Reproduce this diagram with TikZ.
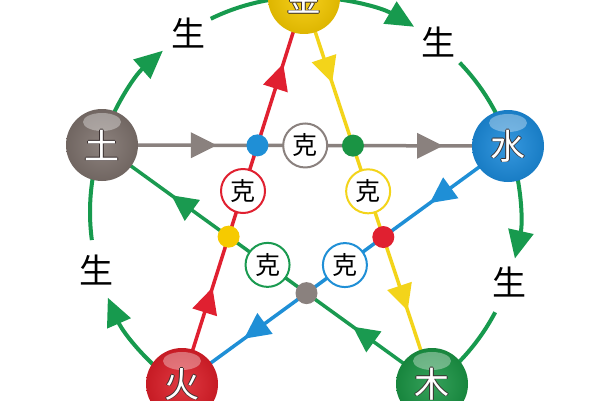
\documentclass[tikz,border=0pt]{standalone}
\usepackage{fontspec}
\newfontfamily\cjk{Noto Sans CJK SC}
\usetikzlibrary{arrows.meta,decorations.markings,calc}
\definecolor{cearth}{HTML}{7D716C}
\definecolor{cwater}{HTML}{1B8ADA}
\definecolor{cwood}{HTML}{1A9444}
\definecolor{cfire}{HTML}{DC1E28}
\definecolor{cmetal}{HTML}{F6CA00}
\definecolor{lgray}{HTML}{8A817E}
\definecolor{lred}{HTML}{E02030}
\definecolor{lyellow}{HTML}{F3D41A}
\definecolor{lblue}{HTML}{1F8FD6}
\definecolor{lgreen}{HTML}{1A9A50}
\definecolor{arcgreen}{HTML}{179A4E}
\definecolor{outl}{HTML}{3A3030}
\newcommand\outlinedtext[1]{\leavevmode
  \rlap{\color{outl}\kern0.7pt#1}\rlap{\color{outl}\kern-0.7pt#1}%
  \rlap{\color{outl}\raisebox{0.7pt}{#1}}\rlap{\color{outl}\raisebox{-0.7pt}{#1}}%
  {\color{white}#1}}
\tikzset{
  orb/.style={circle, minimum size=72pt, inner sep=0pt, shading=radial,
    inner color=#1!88!white, outer color=#1!90!black,
    font=\cjk\fontsize{35}{35}\selectfont,
    path picture={\fill[white,opacity=0.35] ([yshift=23pt]path picture bounding box.center) ellipse (19pt and 9pt);}},
  kecircle/.style={circle, draw=#1, line width=2pt, fill=white, minimum size=44pt,
    inner sep=0pt, font=\cjk\fontsize{25}{25}\selectfont},
  dotnode/.style={circle, fill=#1, minimum size=22pt, inner sep=0pt},
  sheng/.style={draw=arcgreen, line width=4pt},
  shengtip/.style={sheng, -{Triangle[length=28pt,width=25pt]}},
  shenglabel/.style={font=\cjk\fontsize{34}{34}\selectfont, text=black, inner sep=0pt},
  keline/.style n args={3}{draw=#1, line width=3.5pt,
    decoration={markings,
      mark=at position #2 with {\arrow{Triangle[length=26pt,width=25pt]}},
      mark=at position #3 with {\arrow{Triangle[length=26pt,width=25pt]}}},
    postaction={decorate}}
}
\begin{document}
\begin{tikzpicture}[x=1pt,y=1pt]
\useasboundingbox (0,0) rectangle (600,400);
\clip (0,0) rectangle (600,400);
\fill[white] (0,0) rectangle (600,400);
% centres
\coordinate (C) at (305,188);
\coordinate (J) at (304,402);
\coordinate (S) at (508,254);
\coordinate (M) at (432,16);
\coordinate (H) at (182,16);
\coordinate (T) at (102,255);
% generating cycle (outer arcs)
\draw[shengtip] ([shift={(C)}]161.5:215) arc[start angle=161.5,end angle=131.4,radius=215];
\draw[sheng] ([shift={(C)}]116:215) arc[start angle=116,end angle=89,radius=215];
\draw[shengtip] ([shift={(C)}]90:215) arc[start angle=90,end angle=59.5,radius=215];
\draw[sheng] ([shift={(C)}]44:215) arc[start angle=44,end angle=17.8,radius=215];
\draw[shengtip] ([shift={(C)}]17.8:215) arc[start angle=17.8,end angle=-12.5,radius=215];
\draw[sheng] ([shift={(C)}]-27.8:215) arc[start angle=-27.8,end angle=-53.6,radius=215];
\draw[shengtip] ([shift={(C)}]234.4:215) arc[start angle=234.4,end angle=203.5,radius=215];
\draw[sheng] ([shift={(C)}]187.5:215) arc[start angle=187.5,end angle=161.5,radius=215];
% controlling cycle (pentagram)
\path[keline={lgray}{0.283}{0.84}] (T) -- (S);
\path[keline={lred}{0.25}{0.83}] (H) -- (J);
\path[keline={lyellow}{0.22}{0.81}] (J) -- (M);
\path[keline={lblue}{0.24}{0.81}] (S) -- (H);
\path[keline={lgreen}{0.24}{0.79}] (M) -- (T);
% intersections
\coordinate (bd) at (intersection of T--S and H--J);
\coordinate (gd) at (intersection of T--S and J--M);
\coordinate (rd) at (intersection of J--M and S--H);
\coordinate (ad) at (intersection of S--H and M--T);
\coordinate (yd) at (intersection of M--T and H--J);
\node[kecircle=lgray] (k1) at ($(bd)!0.5!(gd)$) {克};
\node[kecircle=lyellow] (k2) at ($(gd)!0.5!(rd)$) {克};
\node[kecircle=lblue] (k3) at ($(rd)!0.5!(ad)$) {克};
\node[kecircle=lgreen] (k4) at ($(ad)!0.5!(yd)$) {克};
\node[kecircle=lred] (k5) at ($(yd)!0.5!(bd)$) {克};
\node[dotnode=lblue] (d1) at (bd) {};
\node[dotnode=cwood] (d2) at (gd) {};
\node[dotnode=lred] (d3) at (rd) {};
\node[dotnode=lgray] (d4) at (ad) {};
\node[dotnode=cmetal] (d5) at (yd) {};
% elements
\node[orb=cmetal] (nJ) at (J) {\outlinedtext{金}};
\node[orb=cwater] (nS) at (S) {\outlinedtext{水}};
\node[orb=cwood] (nM) at (M) {\outlinedtext{木}};
\node[orb=cfire] (nH) at (H) {\outlinedtext{火}};
\node[orb=cearth] (nT) at (T) {\outlinedtext{土}};
% labels
\node[shenglabel] (s1) at (188,367) {生};
\node[shenglabel] (s2) at (438,358) {生};
\node[shenglabel] (s3) at (509,118) {生};
\node[shenglabel] (s4) at (96,130) {生};
\end{tikzpicture}
\end{document}
